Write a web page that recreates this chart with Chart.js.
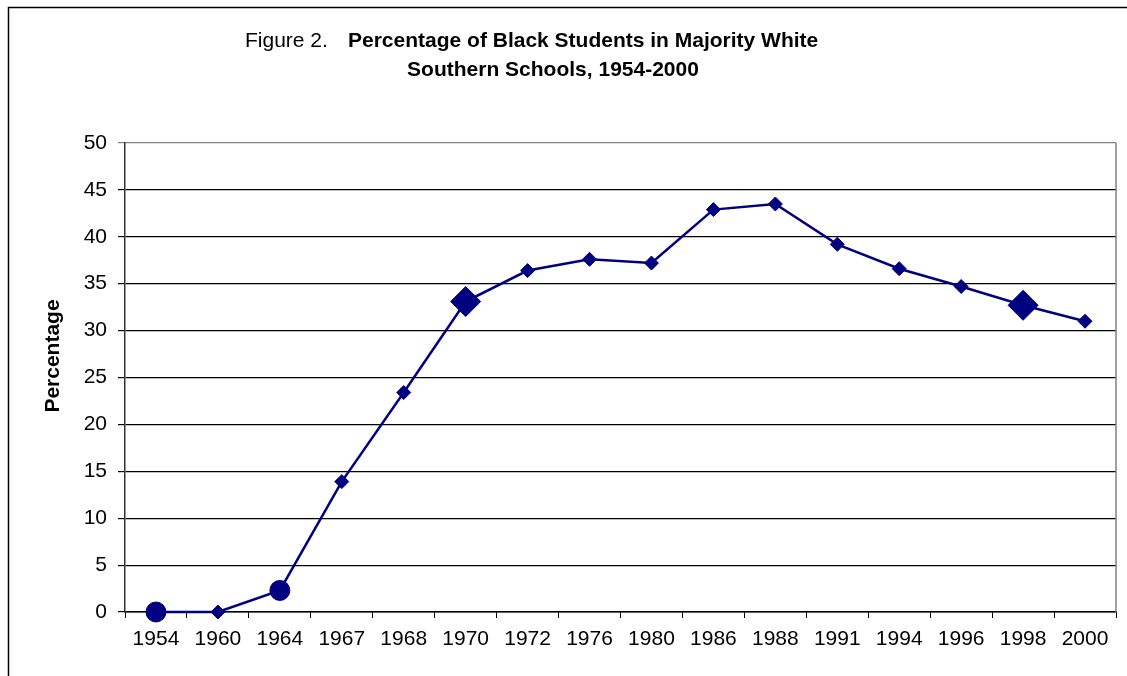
<!DOCTYPE html>
<html>
<head>
<meta charset="utf-8">
<title>Figure 2</title>
<script src="https://cdn.jsdelivr.net/npm/chart.js@4/dist/chart.umd.min.js"></script>
<style>
  html, body { margin: 0; padding: 0; background: #fff; }
  canvas { display: block; }
</style>
</head>
<body>
<canvas id="grafico" width="1127" height="676"></canvas>
<script>
// dados
const anos = ["1954", "1960", "1964", "1967", "1968", "1970", "1972", "1976",
              "1980", "1986", "1988", "1991", "1994", "1996", "1998", "2000"];
const percentuais = [0, 0, 2.3, 13.9, 23.4, 33.1, 36.4, 37.6,
                     37.2, 42.9, 43.5, 39.2, 36.6, 34.7, 32.7, 31.0];
const ticksY = [0, 5, 10, 15, 20, 25, 30, 35, 40, 45, 50];

// marcadores: circulos grandes, losangos grandes e pequenos
const estilos = anos.map(a => (a === "1954" || a === "1964") ? "circle" : "rectRot");
const raios = anos.map(a => {
  if (a === "1954" || a === "1964") return 10;
  if (a === "1970" || a === "1998") return 15;
  return 7;
});

const AZUL = "#000080";
const FONTE = "'Liberation Sans', Arial, sans-serif";

/* =========================
   TEXTOS E MOLDURA
========================= */
const extras = {
  id: "extras",
  beforeDraw(chart) {
    const ctx = chart.ctx;
    ctx.save();
    ctx.fillStyle = "#fff";
    ctx.fillRect(0, 0, chart.width, chart.height);
    // moldura externa
    ctx.strokeStyle = "#000";
    ctx.lineWidth = 1.5;
    ctx.beginPath();
    ctx.moveTo(8.5, chart.height);
    ctx.lineTo(8.5, 7.5);
    ctx.lineTo(chart.width, 7.5);
    ctx.stroke();
    ctx.restore();
  },
  afterDraw(chart) {
    const ctx = chart.ctx;
    const a = chart.chartArea;
    ctx.save();
    // borda direita da area do grafico
    ctx.strokeStyle = "#808080";
    ctx.lineWidth = 1.5;
    ctx.beginPath();
    ctx.moveTo(a.right, a.top);
    ctx.lineTo(a.right, a.bottom);
    ctx.stroke();

    // titulo
    ctx.fillStyle = "#000";
    ctx.textBaseline = "alphabetic";
    ctx.textAlign = "left";
    ctx.font = "21px " + FONTE;
    ctx.fillText("Figure 2.", 245, 47);
    ctx.font = "bold 21px " + FONTE;
    ctx.fillText("Percentage of Black Students in Majority White", 348, 47);
    ctx.textAlign = "center";
    ctx.fillText("Southern Schools, 1954-2000", 553, 76);

    // titulo do eixo Y
    ctx.translate(53, 356);
    ctx.rotate(-Math.PI / 2);
    ctx.textAlign = "center";
    ctx.textBaseline = "middle";
    ctx.font = "bold 21px " + FONTE;
    ctx.fillText("Percentage", 0, 0);
    ctx.restore();
  }
};

/* =========================
   GRAFICO
========================= */
const ctx = document.getElementById("grafico").getContext("2d");
new Chart(ctx, {
  type: "line",
  data: {
    labels: anos,
    datasets: [{
      data: percentuais,
      borderColor: AZUL,
      backgroundColor: AZUL,
      borderWidth: 2.5,
      pointStyle: estilos,
      pointRadius: raios,
      pointBorderWidth: 1,
      pointBackgroundColor: AZUL,
      pointBorderColor: AZUL,
      tension: 0,
      fill: false,
      clip: false
    }]
  },
  options: {
    responsive: false,
    animation: false,
    devicePixelRatio: 1,
    layout: { padding: { top: 143, right: 10, left: 0, bottom: 0 } },
    plugins: {
      legend: { display: false },
      title: { display: false },
      tooltip: { enabled: false }
    },
    scales: {
      x: {
        offset: true,
        grid: {
          offset: true,
          drawOnChartArea: false,
          drawTicks: true,
          tickLength: 6,
          color: "#000"
        },
        border: { color: "#000", width: 1.5 },
        ticks: {
          color: "#000",
          font: { family: FONTE, size: 21 },
          padding: 9,
          maxRotation: 0,
          autoSkip: false
        },
        afterFit: s => { s.height = 64; }
      },
      y: {
        min: 0,
        max: 50,
        afterBuildTicks: s => { s.ticks = ticksY.map(v => ({ value: v })); },
        grid: {
          color: c => (c.tick && c.tick.value === 50) ? "#808080" : "#000",
          lineWidth: 1.2,
          tickLength: 7
        },
        border: { color: "#333", width: 1.5 },
        ticks: {
          color: "#000",
          font: { family: FONTE, size: 21 },
          padding: 11
        },
        afterFit: s => { s.width = 125; }
      }
    }
  },
  plugins: [extras]
});
</script>
</body>
</html>
